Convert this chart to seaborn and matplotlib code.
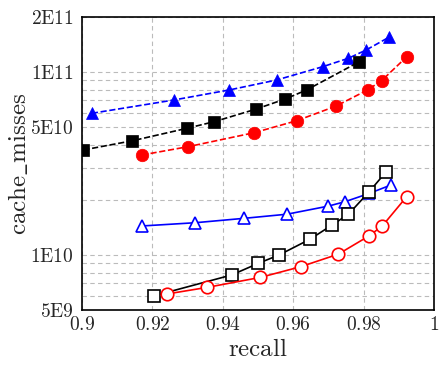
import matplotlib
matplotlib.use("Agg")
import matplotlib.pyplot as plt
import seaborn as sns
import numpy as np
from matplotlib.ticker import FixedLocator, NullFormatter

sns.set_style("white")
plt.rcParams['mathtext.fontset'] = 'cm'
plt.rcParams['font.family'] = ['DejaVu Serif']

# filled (dashed) series
blue_f_x = [0.9028, 0.9260, 0.9418, 0.9553, 0.9684, 0.9757, 0.9807, 0.9872]
blue_f_y = [5.95e10, 7.03e10, 7.98e10, 9.05e10, 1.07e11, 1.19e11, 1.32e11, 1.55e11]
black_f_x = [0.9004, 0.9143, 0.9297, 0.9375, 0.9493, 0.9577, 0.9638, 0.9788]
black_f_y = [3.75e10, 4.21e10, 4.92e10, 5.35e10, 6.26e10, 7.12e10, 7.98e10, 1.14e11]
red_f_x = [0.9170, 0.9302, 0.9489, 0.9610, 0.9722, 0.9811, 0.9851, 0.9922]
red_f_y = [3.52e10, 3.91e10, 4.66e10, 5.42e10, 6.52e10, 7.98e10, 8.97e10, 1.21e11]
# open (solid) series
blue_o_x = [0.9170, 0.9321, 0.9461, 0.9582, 0.9700, 0.9747, 0.9816, 0.9877]
blue_o_y = [1.44e10, 1.50e10, 1.586e10, 1.67e10, 1.85e10, 1.955e10, 2.17e10, 2.41e10]
black_o_x = [0.9205, 0.9425, 0.9501, 0.9560, 0.9648, 0.9711, 0.9757, 0.9816, 0.9864]
black_o_y = [5.98e9, 7.77e9, 9.0e9, 1.0e10, 1.22e10, 1.46e10, 1.67e10, 2.22e10, 2.85e10]
red_o_x = [0.9242, 0.9356, 0.9507, 0.9621, 0.9728, 0.9815, 0.9853, 0.9922]
red_o_y = [6.12e9, 6.65e9, 7.54e9, 8.62e9, 1.01e10, 1.27e10, 1.44e10, 2.08e10]

x_ticks = [0.9, 0.92, 0.94, 0.96, 0.98, 1.0]
x_labels = ['0.9', '0.92', '0.94', '0.96', '0.98', '1']
y_ticks = [5e9, 1e10, 5e10, 1e11, 2e11]
y_labels = ['5E9', '1E10', '5E10', '1E11', '2E11']

fig = plt.figure(figsize=(4.42, 3.68), dpi=100)
ax = fig.add_axes([0.1855, 0.1576, 0.7965, 0.7962])

series = [
    (blue_f_x, blue_f_y, 'blue', '^', '--', True, 8),
    (black_f_x, black_f_y, 'black', 's', '--', True, 9),
    (red_f_x, red_f_y, 'red', 'o', '--', True, 9),
    (blue_o_x, blue_o_y, 'blue', '^', '-', False, 8),
    (black_o_x, black_o_y, 'black', 's', '-', False, 9),
    (red_o_x, red_o_y, 'red', 'o', '-', False, 9),
]
for xs, ys, c, m, ls, filled, ms in series:
    sns.lineplot(x=xs, y=ys, ax=ax, color=c, marker=m, linestyle=ls,
                 linewidth=1.2, markersize=ms, estimator=None, sort=False,
                 markerfacecolor=c if filled else 'white',
                 markeredgecolor=c, markeredgewidth=1.2 if not filled else 0.5,
                 dashes=False if ls == '-' else (3, 2.5), zorder=3)

ax.set_yscale('log')
ax.set_xlim(0.9, 1.0)
ax.set_ylim(5e9, 2e11)
ax.set_xticks(x_ticks)
ax.set_xticklabels([r'$\mathrm{%s}$' % s for s in x_labels])
ax.yaxis.set_major_locator(FixedLocator(y_ticks))
ax.set_yticklabels([r'$\mathrm{%s}$' % s for s in y_labels])
minor = [6e9, 7e9, 8e9, 9e9, 2e10, 3e10, 4e10, 6e10, 7e10, 8e10, 9e10]
ax.yaxis.set_minor_locator(FixedLocator(minor))
ax.yaxis.set_minor_formatter(NullFormatter())
ax.tick_params(axis='both', which='both', labelsize=14, length=0)
ax.tick_params(axis='x', pad=4)
ax.tick_params(axis='y', pad=6)
ax.grid(True, which='both', axis='y', color='#bbbbbb', linestyle=(0, (4, 3)), linewidth=0.8)
ax.grid(True, which='major', axis='x', color='#bbbbbb', linestyle=(0, (4, 3)), linewidth=0.8)
for sp in ax.spines.values():
    sp.set_color('black')
    sp.set_linewidth(1.2)
ax.set_xlabel(r'$\mathrm{recall}$', fontsize=18, labelpad=3)
ax.set_ylabel(r'$\mathrm{cache\_misses}$', fontsize=18, labelpad=-1)

fig.savefig('out.png', dpi=100)
